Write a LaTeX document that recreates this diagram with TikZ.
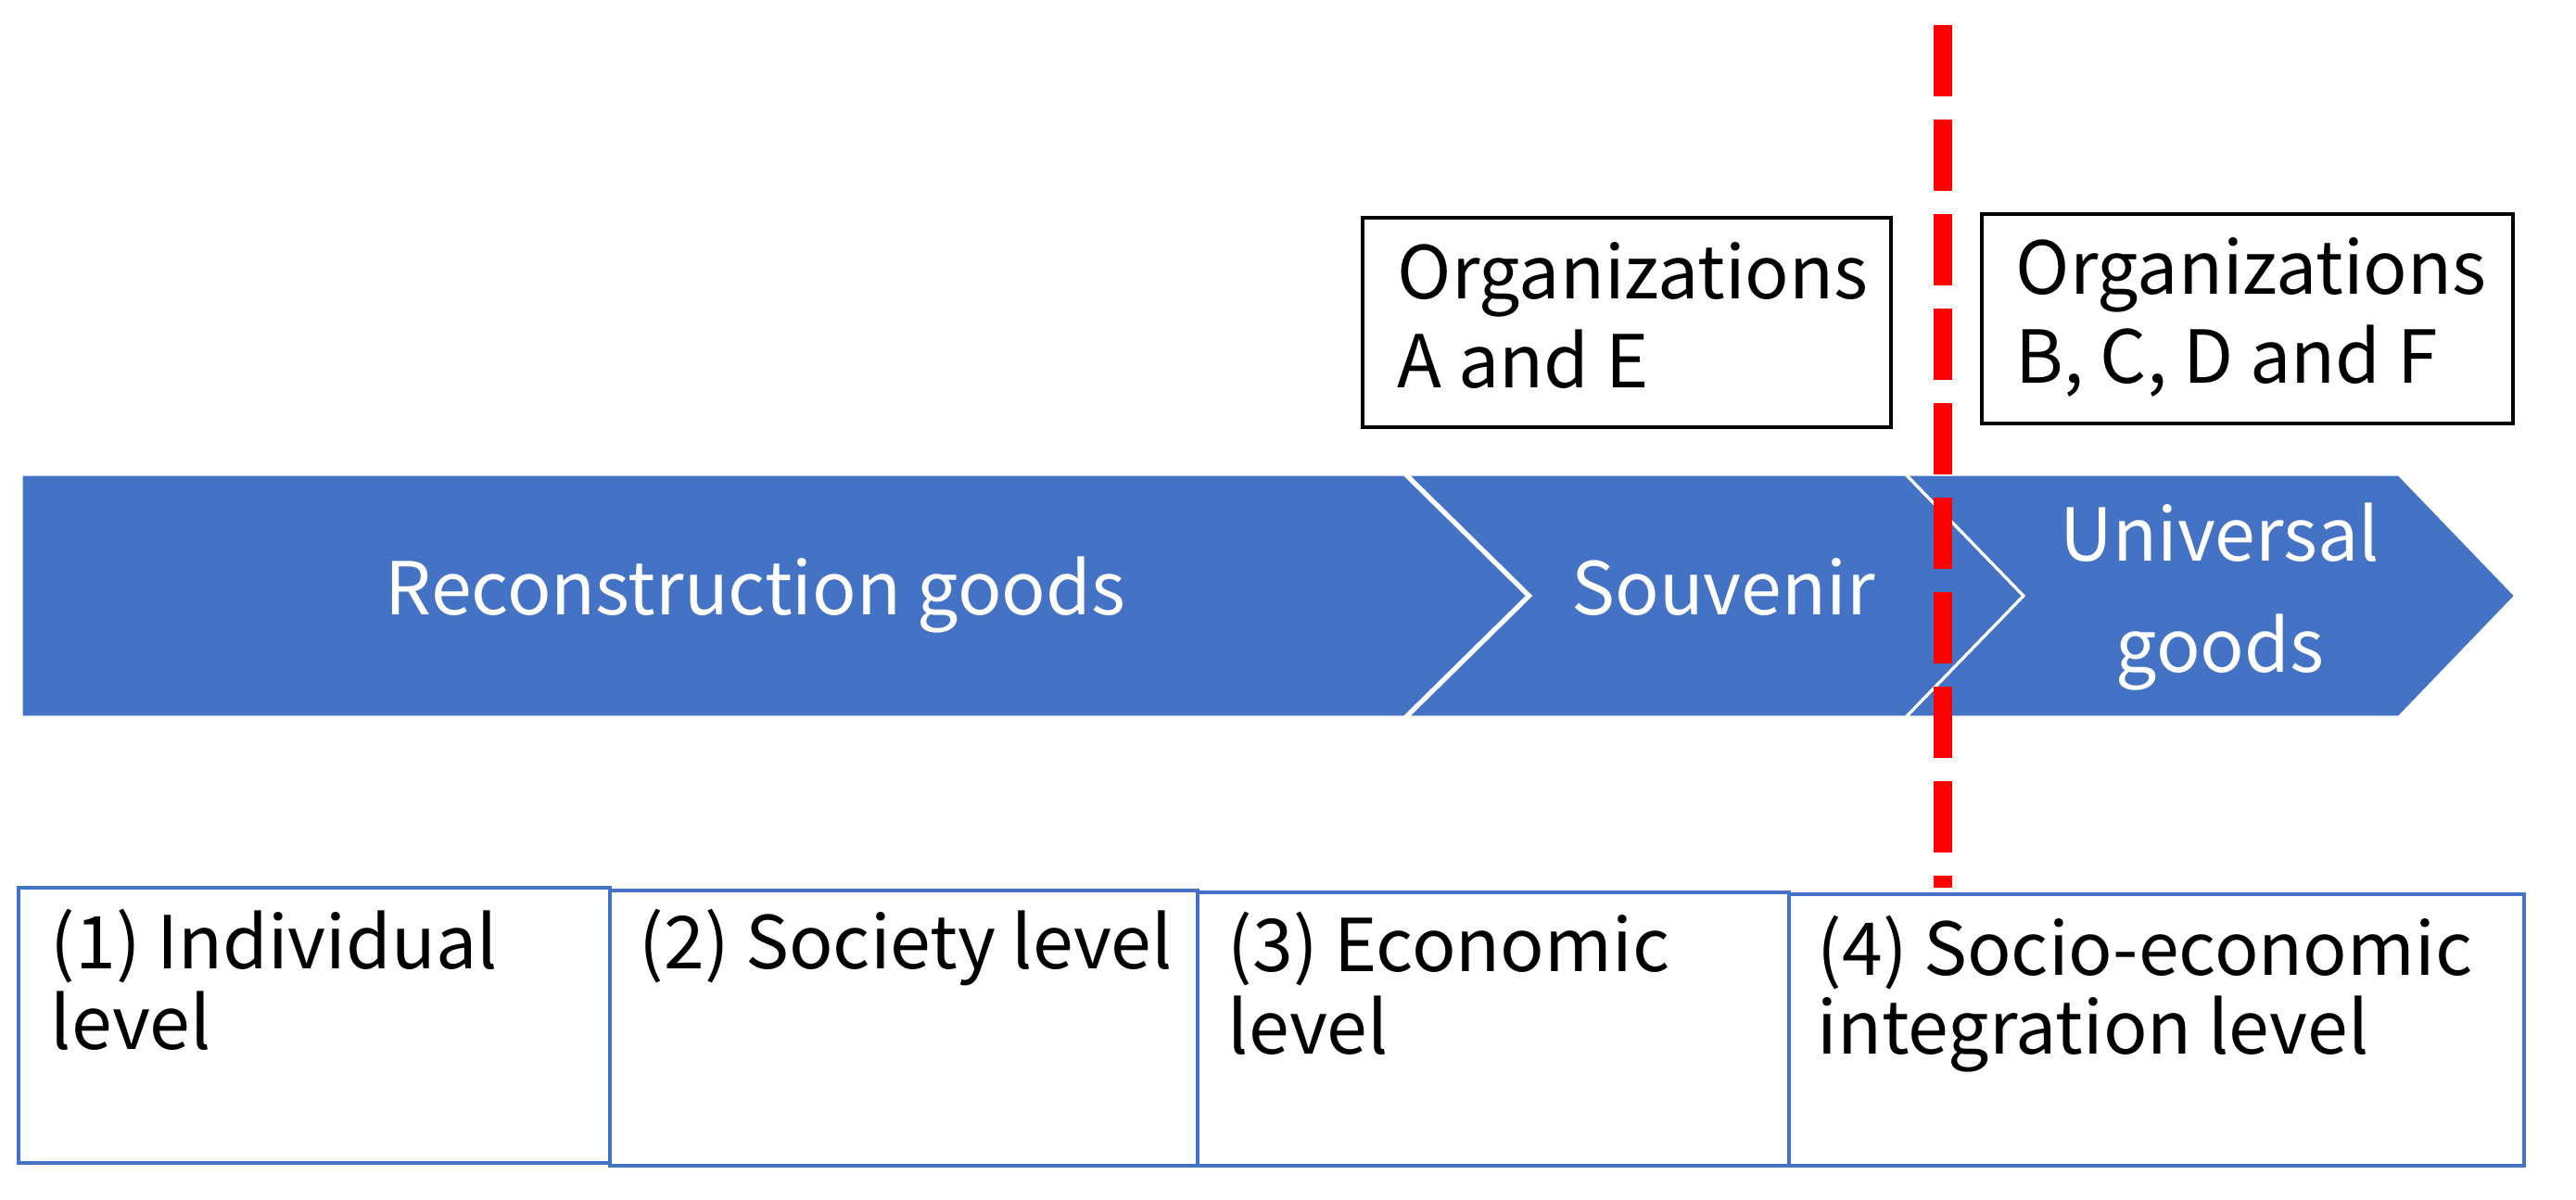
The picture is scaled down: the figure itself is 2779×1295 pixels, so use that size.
\documentclass[tikz,border=0pt]{standalone}
\usepackage{fontspec}
\setmainfont{Noto Sans CJK JP}
\definecolor{cblue}{HTML}{4472C4}
\definecolor{cred}{HTML}{FF0000}
\begin{document}
\begin{tikzpicture}[x=0.1mm,y=-0.1mm,
  lbl/.style={anchor=base west, inner sep=0pt, font=\fontsize{22.4}{27}\selectfont},
  wlbl/.style={anchor=base, inner sep=0pt, text=white, font=\fontsize{22.4}{27}\selectfont},
  topbox/.style={draw=black, line width=1.1pt, inner sep=0pt, outer sep=0pt, anchor=north west},
  lvlbox/.style={draw=cblue, line width=1.05pt, inner sep=0pt, outer sep=0pt, anchor=north west},
  chev/.style={fill=cblue, draw=white, line width=0.9pt, line join=miter},
  divider/.style={draw=cred, line width=2mm, dash pattern=on 7.7mm off 2.5mm}]
\useasboundingbox[fill=white] (0,0) rectangle (2779,1295);

% chevron band
\path[chev] (23,512) -- (1515,512) -- (1648,643) -- (1515,774) -- (23,774) -- cycle;
\path[chev] (1518,512) -- (2056,512) -- (2183,643) -- (2056,774) -- (1518,774) -- (1651,643) -- cycle;
\path[chev] (2056,512) -- (2588,512) -- (2714,643) -- (2588,774) -- (2056,774) -- (2183,643) -- cycle;

\node[wlbl] (rg) at (815,663) {Reconstruction goods};
\node[wlbl] (sv) at (1859,663) {Souvenir};
\node[wlbl] (ug1) at (2395,605) {Universal};
\node[wlbl] (ug2) at (2395,725) {goods};

% organization boxes
\node[topbox, minimum width=57.0mm, minimum height=22.6mm] (t1) at (1470,235) {};
\node[topbox, minimum width=57.3mm, minimum height=22.6mm] (t2) at (2138,231) {};
\node[lbl] (t1a) at (1507,323) {Organizations};
\node[lbl] (t1b) at (1507,418) {A and E};
\node[lbl] (t2a) at (2174,318) {Organizations};
\node[lbl] (t2b) at (2174,413) {B, C, D and F};

% level boxes
\node[lvlbox, minimum width=63.8mm, minimum height=29.7mm] (b1) at (20,958) {};
\node[lvlbox, minimum width=63.4mm, minimum height=29.7mm] (b2) at (658,961) {};
\node[lvlbox, minimum width=63.8mm, minimum height=29.5mm] (b3) at (1292,963) {};
\node[lvlbox, minimum width=79.3mm, minimum height=29.3mm] (b4) at (1930,965) {};
\node[lbl] (b1a) at (54,1045) {(1) Individual};
\node[lbl] (b1b) at (54,1132) {level};
\node[lbl] (b2a) at (689,1045) {(2) Society level};
\node[lbl] (b3a) at (1324,1048) {(3) Economic};
\node[lbl] (b3b) at (1324,1137) {level};
\node[lbl] (b4a) at (1960,1052) {(4) Socio-economic};
\node[lbl] (b4b) at (1960,1137) {integration level};

% red divider
\coordinate (dtop) at (2096,27);
\coordinate (dbot) at (2096,958);
\draw[divider] (dtop) -- (dbot);
\end{tikzpicture}
\end{document}
